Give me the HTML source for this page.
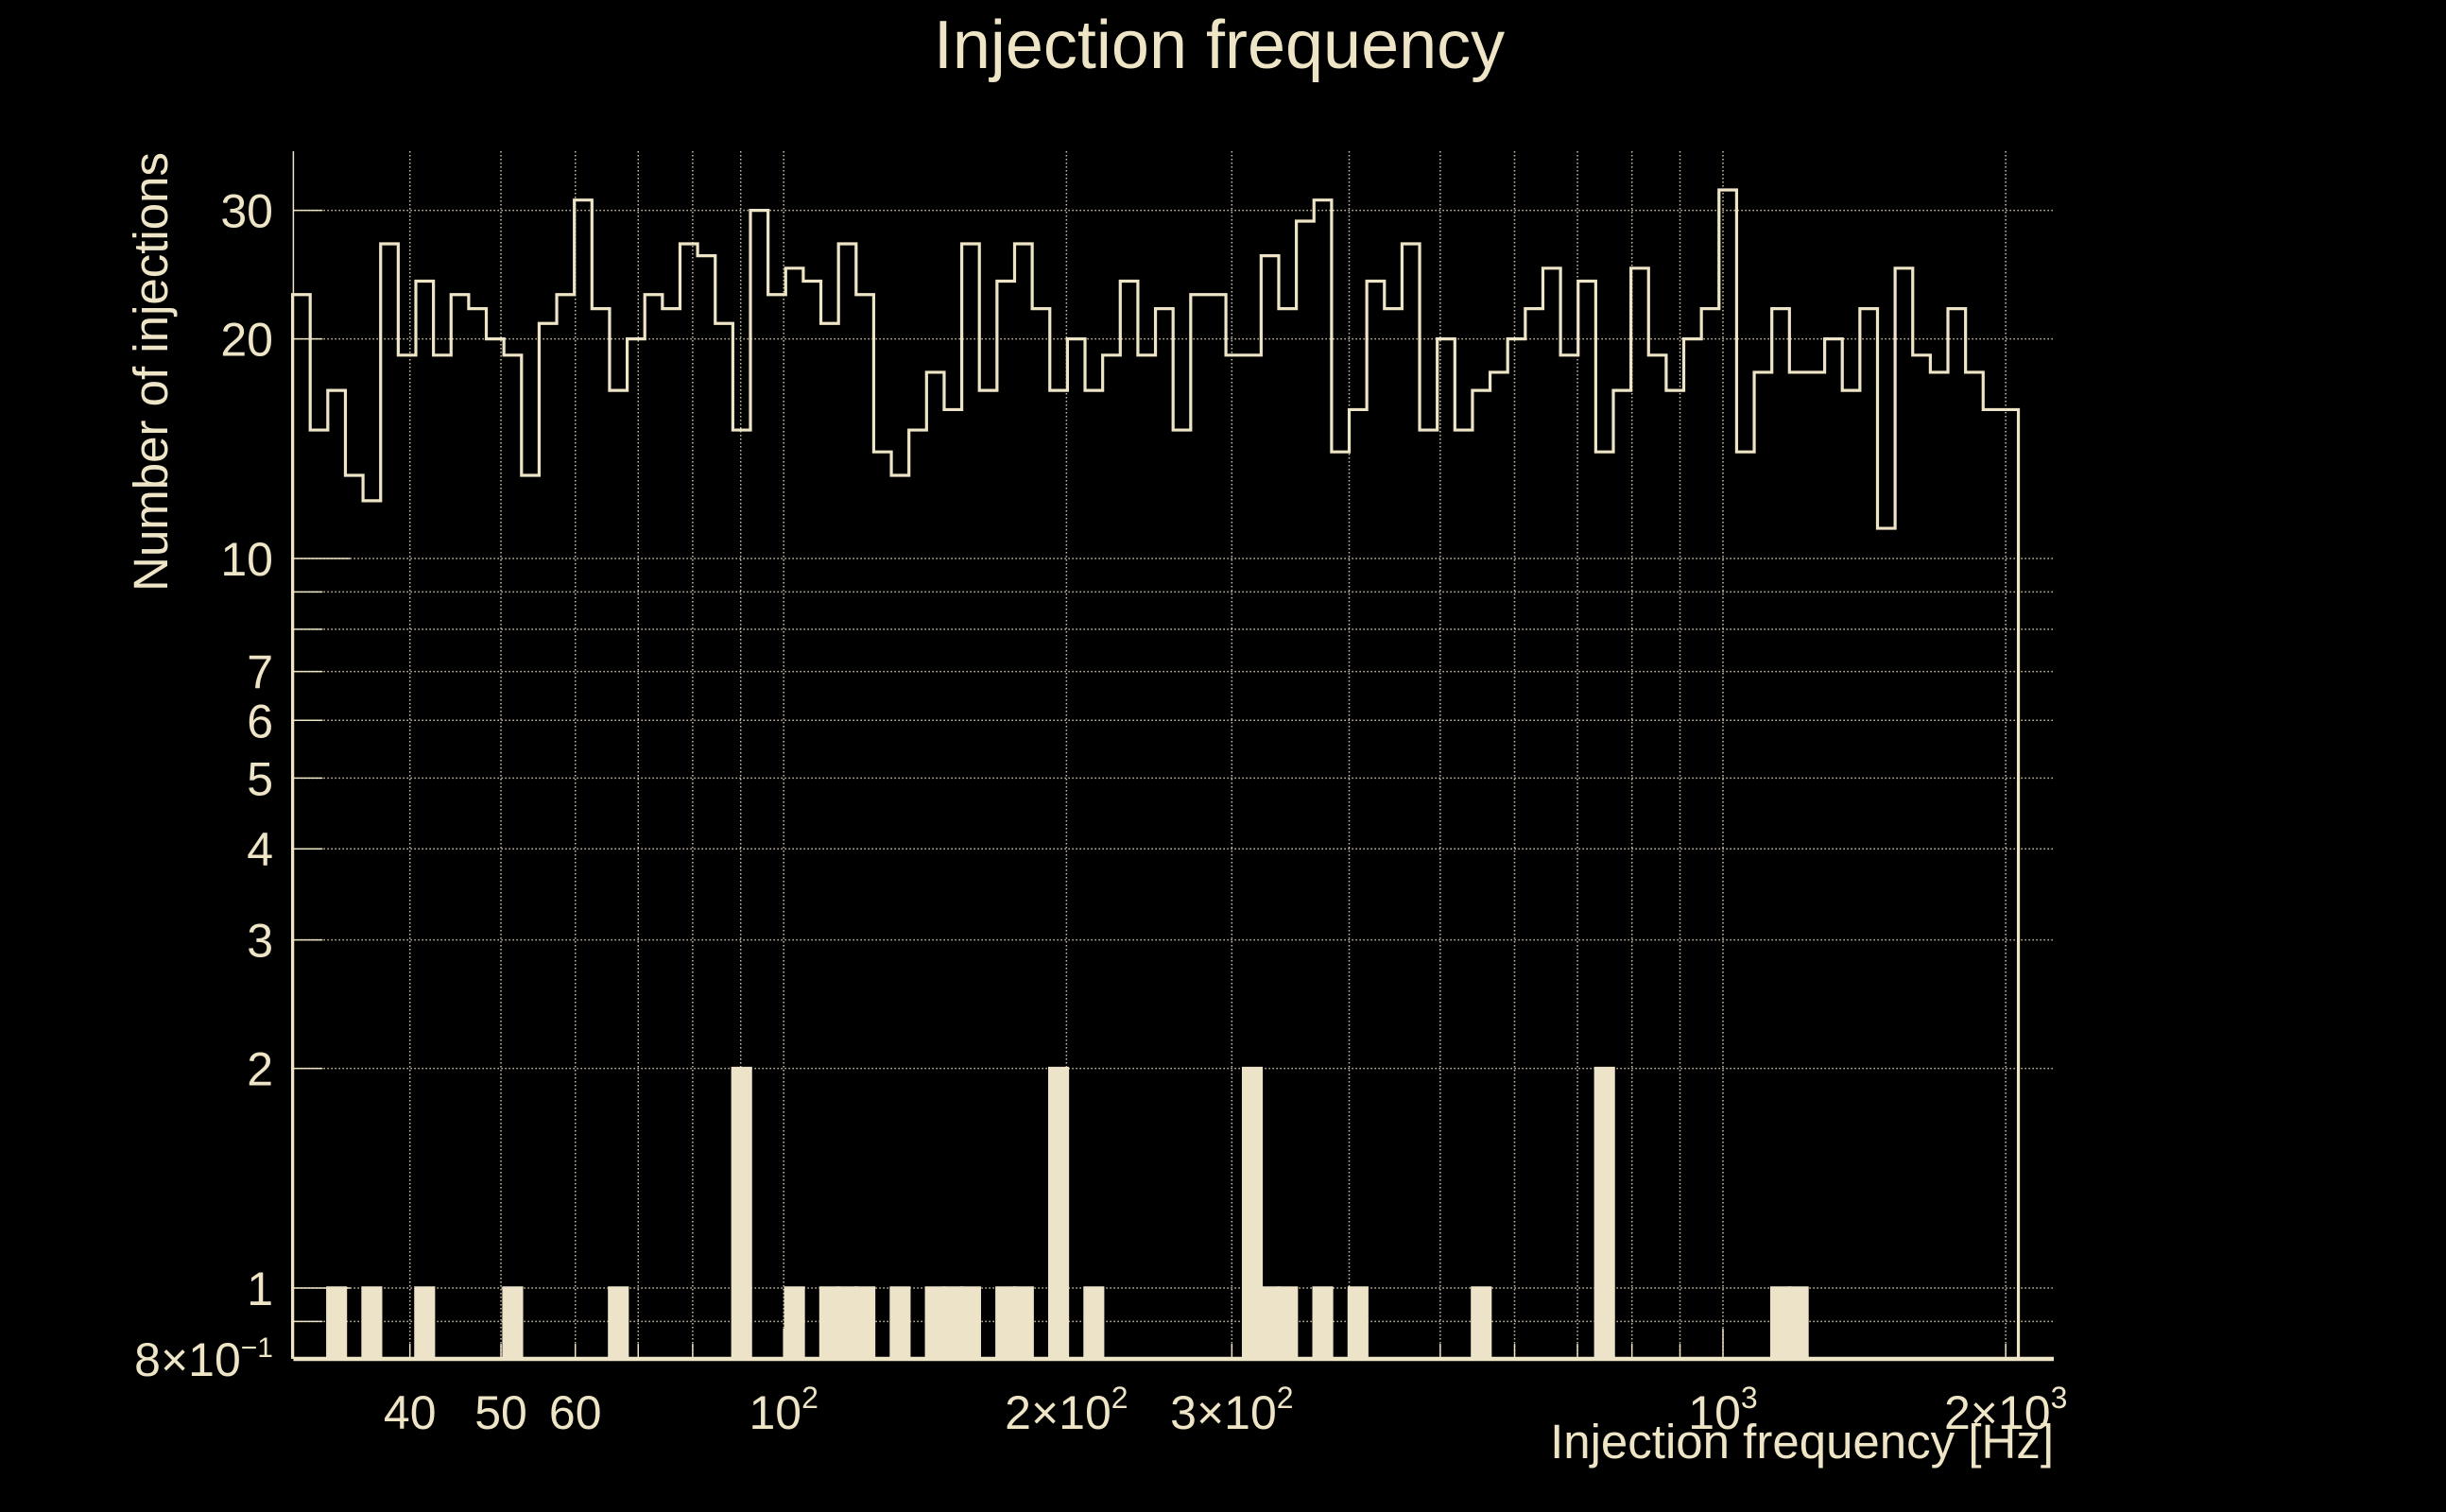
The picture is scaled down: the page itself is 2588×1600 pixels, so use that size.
<!DOCTYPE html>
<html>
<head>
<meta charset="utf-8">
<style>
  html,body{margin:0;padding:0;background:#000;}
  svg{display:block;}
  text{font-family:"Liberation Sans",sans-serif;fill:#eee4c6;}
</style>
</head>
<body>
<svg id="chart" width="2588" height="1600" viewBox="0 0 2588 1600" xmlns="http://www.w3.org/2000/svg">
  <rect x="0" y="0" width="2588" height="1600" fill="#000"/>
  <text x="1290" y="72" font-size="72" text-anchor="middle">Injection frequency</text>
  <text transform="translate(177,161) rotate(-90)" font-size="51" text-anchor="end">Number of injections</text>
  <text x="2173" y="1543" font-size="51" text-anchor="end">Injection frequency [Hz]</text>
  <g id="grid"></g>
  <g id="ticks"></g>
  <g id="bars"></g>
  <g id="outline"></g>
  <g id="ylabels"></g>
  <g id="xlabels"></g>
</svg>
<script>
const lineCounts = [23,15,17,13,12,27,19,24,19,23,
  22,20,19,13,21,23,31,22,17,20,
  23,22,27,26,21,15,30,23,25,24,
  21,27,23,14,13,15,18,16,27,17,
  24,27,22,17,20,17,19,24,19,22,
  15,23,23,19,19,26,22,29,31,14,
  16,24,22,27,15,20,15,17,18,20,
  22,25,19,24,14,17,25,19,17,20,
  22,32,14,18,22,18,18,20,17,22,
  11,25,19,18,22,18,16,16];
const barCounts = [0,0,1,0,1,0,0,1,0,0,
  0,0,1,0,0,0,0,0,1,0,
  0,0,0,0,0,2,0,0,1,0,
  1,1,1,0,1,0,1,1,1,0,
  1,1,0,2,0,1,0,0,0,0,
  0,0,0,0,2,1,1,0,1,0,
  1,0,0,0,0,0,0,1,0,0,
  0,0,0,0,2,0,0,0,0,0,
  0,0,0,0,1,1,0,0,0,0,
  0,0,0,0,0,0,0,0];
const binRange = [30, 2063];
const yTickValues = [30,20,10,7,6,5,4,3,2,1];
const yTickLabels = ["30","20","10","7","6","5","4","3","2","1"];
const yGridValues = [0.9,1,2,3,4,5,6,7,8,9,10,20,30];
const xGridValues = [40,50,60,70,80,90,100,200,300,400,500,600,700,800,900,1000,2000];
const xTickValues = [40,50,60,100,200,300,1000,2000];
const xTickMant = ["40","50","60","10","2×10","3×10","10","2×10"];
const xTickExp = ["","","","2","2","2","3","3"];

const C = "#eee4c6";
const NS = "http://www.w3.org/2000/svg";
const XL = 310.4, XR = 2173, YT = 160, YB = 1438;
const xScale = f => 1823 + (Math.log10(f) - 3) * 993.8;
const yScale = v => 1363 - Math.log10(v) * 772;
function mk(tag, attrs, parent){
  const e = document.createElementNS(NS, tag);
  for (const k in attrs) e.setAttribute(k, attrs[k]);
  parent.appendChild(e);
  return e;
}
const grid = document.getElementById('grid');
const ticks = document.getElementById('ticks');
// horizontal grid
yGridValues.forEach(v => {
  const y = yScale(v);
  const l = mk('line', {x1:XL, x2:XR, y1:y, y2:y, stroke:C, 'stroke-width':1.5, 'stroke-dasharray':'1.5 2.5', opacity:0.85}, grid);
  
  
  const major = (v === 1 || v === 10);
  const t = mk('line', {x1:XL, x2:XL + (major ? 60 : 31), y1:y, y2:y, stroke:C, 'stroke-width':1.5}, ticks);
  
  
});
// vertical grid
xGridValues.forEach(f => {
  const x = xScale(f);
  const l = mk('line', {x1:x, x2:x, y1:YT, y2:YB, stroke:C, 'stroke-width':1.5, 'stroke-dasharray':'1.5 2.5', opacity:0.85}, grid);
  
  
  const major = (f === 100 || f === 1000);
  const t = mk('line', {x1:x, x2:x, y1:YB, y2:YB - (major ? 32 : 16), stroke:C, 'stroke-width':1.5}, ticks);
  
  
});
// axes
const ax = mk('line', {x1:XL, x2:XL, y1:YT, y2:YB, stroke:C, 'stroke-width':1.5}, ticks);


const bx = mk('line', {x1:XL, x2:XR, y1:YB, y2:YB, stroke:C, 'stroke-width':4.5}, ticks);



// bin edges
const n = lineCounts.length;
const edge = i => binRange[0] * Math.pow(binRange[1] / binRange[0], i / n);
const yBase = yScale(0.8);

// filled bars
const bars = document.getElementById('bars');
barCounts.forEach((v, i) => {
  if (v <= 0) return;
  const x0 = xScale(edge(i)), x1 = xScale(edge(i + 1));
  const y = yScale(v);
  const r = mk('rect', {x:x0, y:y, width:x1 - x0, height:yBase - y, fill:'#ede3c8', stroke:'#ede3c8', 'stroke-width':3.5}, bars);
  
  
});

// outline step histogram
let d = 'M' + xScale(edge(0)) + ' ' + yBase;
lineCounts.forEach((v, i) => {
  const y = yScale(v);
  d += ' L' + xScale(edge(i)) + ' ' + y + ' L' + xScale(edge(i + 1)) + ' ' + y;
});
d += ' L' + xScale(edge(n)) + ' ' + yBase;
const p = mk('path', {d:d, fill:'none', stroke:C, 'stroke-width':3.2, 'stroke-linejoin':'miter'}, document.getElementById('outline'));



// y labels
const yl = document.getElementById('ylabels');
yTickValues.forEach((v, i) => {
  const t = mk('text', {x:289, y:yScale(v) + 18, 'font-size':50, 'text-anchor':'end'}, yl);
  t.textContent = yTickLabels[i];
  
  
});
const yb = mk('text', {x:289, y:yBase + 18, 'font-size':50, 'text-anchor':'end'}, yl);
yb.innerHTML = '8×10<tspan font-size="30" dy="-20">−1</tspan>';



// x labels
const xl = document.getElementById('xlabels');
xTickValues.forEach((f, i) => {
  const t = mk('text', {x:xScale(f), y:1512, 'font-size':50, 'text-anchor':'middle'}, xl);
  if (xTickExp[i]) {
    t.innerHTML = xTickMant[i] + '<tspan font-size="32" dy="-22">' + xTickExp[i] + '</tspan>';
  } else {
    t.textContent = xTickMant[i];
  }
  
  
});
</script>
</body>
</html>
